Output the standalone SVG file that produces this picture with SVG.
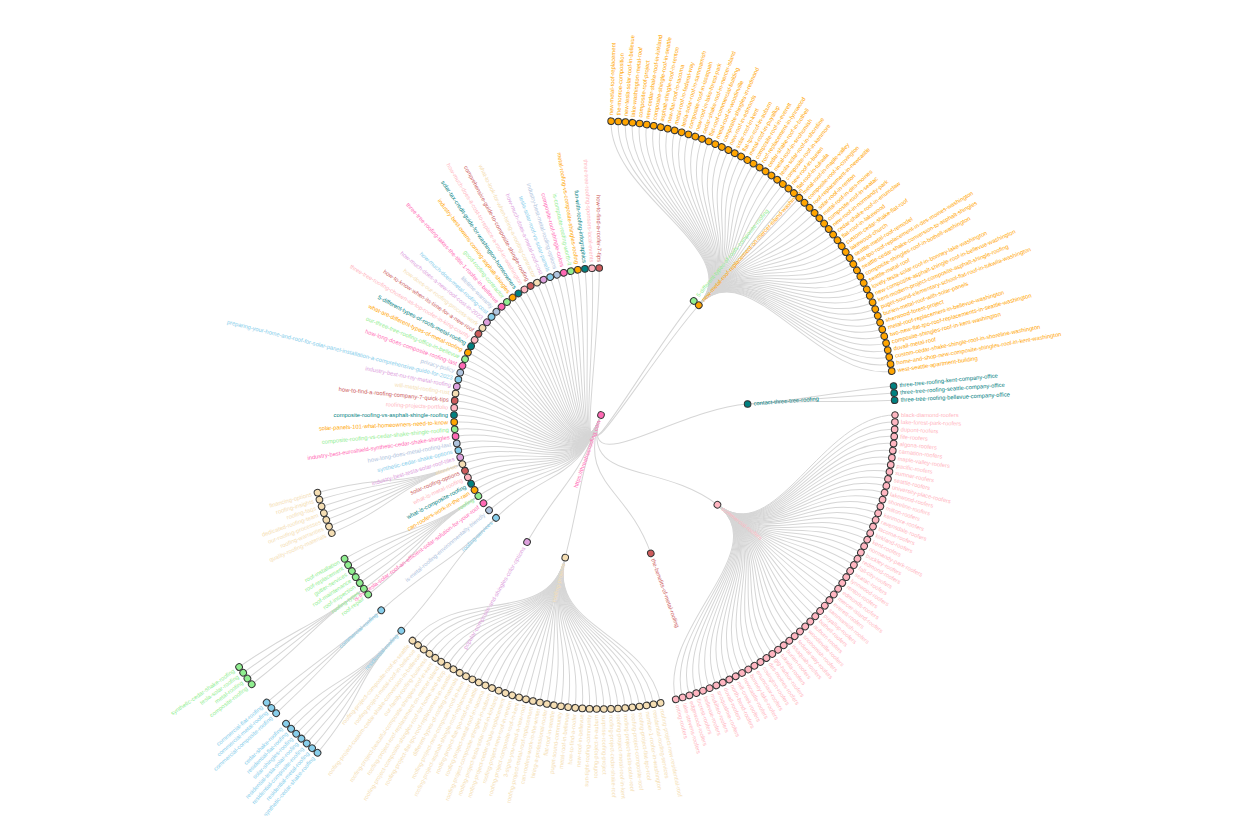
<svg xmlns="http://www.w3.org/2000/svg" width="1255" height="816" viewBox="0 0 1255 816">
<style>
text{font-family:"Liberation Sans",Arial,sans-serif;font-size:5.8px}
circle{stroke:#333;stroke-width:1}
.f text{text-anchor:end}
#links path{fill:none;stroke:#d6d6d6;stroke-width:1}
.G{fill:#90ee90}.O{fill:#ffa500}.T{fill:#008080}.P{fill:#ffb6c1}.R{fill:#cd5c5c}.W{fill:#f5deb3}.M{fill:#dda0dd}.S{fill:#87ceeb}.L{fill:#b0c4de}.H{fill:#ff69b4}
</style>
<rect width="1255" height="816" fill="#fff"/>
<g transform="translate(601,415)">
<g id="links">
<path transform="rotate(-50.9)" d="M0,0C-69.1,25 73.5,0 147,0"/>
<path transform="rotate(-48.3)" d="M0,0C-67.9,28.1 73.5,0 147,0"/>
<path transform="rotate(-4.27)" d="M0,0C-29.3,67.4 73.5,0 147,0"/>
<path transform="rotate(37.64)" d="M0,0C23.3,69.7 73.5,0 147,0"/>
<path transform="rotate(70.2)" d="M0,0C57.1,46.3 73.5,0 147,0"/>
<path transform="rotate(104.09)" d="M0,0C73.2,6.6 73.5,0 147,0"/>
<path transform="rotate(120.2)" d="M0,0C72.2,-14 73.5,0 147,0"/>
<path transform="rotate(135.58)" d="M0,0C65.9,-32.7 73.5,0 147,0"/>
<path transform="rotate(139.6)" d="M0,0C63.4,-37.2 73.5,0 147,0"/>
<path transform="rotate(143.1)" d="M0,0C61,-41 73.5,0 147,0"/>
<path transform="rotate(146.54)" d="M0,0C58.4,-44.6 73.5,0 147,0"/>
<path transform="rotate(149.33)" d="M0,0C56.2,-47.4 73.5,0 147,0"/>
<path transform="rotate(152.12)" d="M0,0C53.8,-50.1 73.5,0 147,0"/>
<path transform="rotate(154.91)" d="M0,0C51.3,-52.6 73.5,0 147,0"/>
<path transform="rotate(157.7)" d="M0,0C48.7,-55.1 73.5,0 147,0"/>
<path transform="rotate(160.49)" d="M0,0C46,-57.4 73.5,0 147,0"/>
<path transform="rotate(163.28)" d="M0,0C43.1,-59.5 73.5,0 147,0"/>
<path transform="rotate(166.07)" d="M0,0C40.2,-61.6 73.5,0 147,0"/>
<path transform="rotate(168.86)" d="M0,0C37.1,-63.4 73.5,0 147,0"/>
<path transform="rotate(171.65)" d="M0,0C34,-65.2 73.5,0 147,0"/>
<path transform="rotate(174.44)" d="M0,0C30.8,-66.7 73.5,0 147,0"/>
<path transform="rotate(177.23)" d="M0,0C27.5,-68.2 73.5,0 147,0"/>
<path transform="rotate(180.02)" d="M0,0C24.2,-69.4 73.5,0 147,0"/>
<path transform="rotate(182.81)" d="M0,0C20.7,-70.5 73.5,0 147,0"/>
<path transform="rotate(185.6)" d="M0,0C17.3,-71.4 73.5,0 147,0"/>
<path transform="rotate(188.39)" d="M0,0C13.8,-72.2 73.5,0 147,0"/>
<path transform="rotate(191.18)" d="M0,0C10.3,-72.8 73.5,0 147,0"/>
<path transform="rotate(193.97)" d="M0,0C6.7,-73.2 73.5,0 147,0"/>
<path transform="rotate(196.76)" d="M0,0C3.1,-73.4 73.5,0 147,0"/>
<path transform="rotate(199.55)" d="M0,0C-0.4,-73.5 73.5,0 147,0"/>
<path transform="rotate(202.34)" d="M0,0C-4,-73.4 73.5,0 147,0"/>
<path transform="rotate(205.13)" d="M0,0C-7.6,-73.1 73.5,0 147,0"/>
<path transform="rotate(207.92)" d="M0,0C-11.1,-72.7 73.5,0 147,0"/>
<path transform="rotate(210.71)" d="M0,0C-14.7,-72 73.5,0 147,0"/>
<path transform="rotate(213.5)" d="M0,0C-18.2,-71.2 73.5,0 147,0"/>
<path transform="rotate(216.29)" d="M0,0C-21.6,-70.3 73.5,0 147,0"/>
<path transform="rotate(219.08)" d="M0,0C-25,-69.1 73.5,0 147,0"/>
<path transform="rotate(221.87)" d="M0,0C-28.3,-67.8 73.5,0 147,0"/>
<path transform="rotate(224.66)" d="M0,0C-31.6,-66.4 73.5,0 147,0"/>
<path transform="rotate(227.45)" d="M0,0C-34.8,-64.8 73.5,0 147,0"/>
<path transform="rotate(230.24)" d="M0,0C-37.9,-63 73.5,0 147,0"/>
<path transform="rotate(233.03)" d="M0,0C-40.9,-61.1 73.5,0 147,0"/>
<path transform="rotate(235.82)" d="M0,0C-43.8,-59 73.5,0 147,0"/>
<path transform="rotate(238.61)" d="M0,0C-46.7,-56.8 73.5,0 147,0"/>
<path transform="rotate(241.4)" d="M0,0C-49.4,-54.5 73.5,0 147,0"/>
<path transform="rotate(244.19)" d="M0,0C-52,-52 73.5,0 147,0"/>
<path transform="rotate(246.98)" d="M0,0C-54.4,-49.4 73.5,0 147,0"/>
<path transform="rotate(249.77)" d="M0,0C-56.8,-46.7 73.5,0 147,0"/>
<path transform="rotate(252.56)" d="M0,0C-59,-43.9 73.5,0 147,0"/>
<path transform="rotate(255.35)" d="M0,0C-61,-40.9 73.5,0 147,0"/>
<path transform="rotate(258.14)" d="M0,0C-63,-37.9 73.5,0 147,0"/>
<path transform="rotate(260.93)" d="M0,0C-64.7,-34.8 73.5,0 147,0"/>
<path transform="rotate(263.72)" d="M0,0C-66.4,-31.6 73.5,0 147,0"/>
<path transform="rotate(266.51)" d="M0,0C-67.8,-28.4 73.5,0 147,0"/>
<path transform="rotate(269.3)" d="M0,0C-69.1,-25 73.5,0 147,0"/>
<path transform="rotate(-88.03)" d="M113.1,94C169.6,140.9 220.5,0 294,0"/>
<path transform="rotate(-86.64)" d="M115.3,91.2C173,136.8 220.5,0 294,0"/>
<path transform="rotate(-85.24)" d="M117.5,88.4C176.2,132.5 220.5,0 294,0"/>
<path transform="rotate(-83.85)" d="M119.6,85.5C179.4,128.2 220.5,0 294,0"/>
<path transform="rotate(-82.45)" d="M121.7,82.5C182.5,123.8 220.5,0 294,0"/>
<path transform="rotate(-81.06)" d="M123.6,79.5C185.4,119.3 220.5,0 294,0"/>
<path transform="rotate(-79.67)" d="M125.5,76.5C188.3,114.8 220.5,0 294,0"/>
<path transform="rotate(-78.27)" d="M127.3,73.4C191,110.2 220.5,0 294,0"/>
<path transform="rotate(-76.88)" d="M129.1,70.3C193.6,105.5 220.5,0 294,0"/>
<path transform="rotate(-75.48)" d="M130.8,67.2C196.1,100.7 220.5,0 294,0"/>
<path transform="rotate(-74.09)" d="M132.4,64C198.5,95.9 220.5,0 294,0"/>
<path transform="rotate(-72.7)" d="M133.9,60.7C200.8,91.1 220.5,0 294,0"/>
<path transform="rotate(-71.3)" d="M135.3,57.4C203,86.2 220.5,0 294,0"/>
<path transform="rotate(-69.91)" d="M136.7,54.1C205,81.2 220.5,0 294,0"/>
<path transform="rotate(-68.51)" d="M138,50.8C206.9,76.2 220.5,0 294,0"/>
<path transform="rotate(-67.12)" d="M139.1,47.4C208.7,71.1 220.5,0 294,0"/>
<path transform="rotate(-65.73)" d="M140.3,44C210.4,66 220.5,0 294,0"/>
<path transform="rotate(-64.33)" d="M141.3,40.6C211.9,60.9 220.5,0 294,0"/>
<path transform="rotate(-62.94)" d="M142.2,37.2C213.4,55.7 220.5,0 294,0"/>
<path transform="rotate(-61.54)" d="M143.1,33.7C214.6,50.5 220.5,0 294,0"/>
<path transform="rotate(-60.15)" d="M143.9,30.2C215.8,45.3 220.5,0 294,0"/>
<path transform="rotate(-58.76)" d="M144.6,26.7C216.8,40 220.5,0 294,0"/>
<path transform="rotate(-57.36)" d="M145.2,23.2C217.8,34.7 220.5,0 294,0"/>
<path transform="rotate(-55.97)" d="M145.7,19.6C218.5,29.4 220.5,0 294,0"/>
<path transform="rotate(-54.57)" d="M146.1,16.1C219.2,24.1 220.5,0 294,0"/>
<path transform="rotate(-53.18)" d="M146.5,12.5C219.7,18.8 220.5,0 294,0"/>
<path transform="rotate(-51.79)" d="M146.7,8.9C220.1,13.4 220.5,0 294,0"/>
<path transform="rotate(-50.39)" d="M146.9,5.4C220.4,8.1 220.5,0 294,0"/>
<path transform="rotate(-49)" d="M147,1.8C220.5,2.7 220.5,0 294,0"/>
<path transform="rotate(-47.6)" d="M147,-1.8C220.5,-2.7 220.5,0 294,0"/>
<path transform="rotate(-46.21)" d="M146.9,-5.4C220.4,-8.1 220.5,0 294,0"/>
<path transform="rotate(-44.82)" d="M146.7,-8.9C220.1,-13.4 220.5,0 294,0"/>
<path transform="rotate(-43.42)" d="M146.5,-12.5C219.7,-18.8 220.5,0 294,0"/>
<path transform="rotate(-42.03)" d="M146.1,-16.1C219.2,-24.1 220.5,0 294,0"/>
<path transform="rotate(-40.63)" d="M145.7,-19.6C218.5,-29.4 220.5,0 294,0"/>
<path transform="rotate(-39.24)" d="M145.2,-23.2C217.8,-34.7 220.5,0 294,0"/>
<path transform="rotate(-37.85)" d="M144.6,-26.7C216.8,-40 220.5,0 294,0"/>
<path transform="rotate(-36.45)" d="M143.9,-30.2C215.8,-45.3 220.5,0 294,0"/>
<path transform="rotate(-35.06)" d="M143.1,-33.7C214.6,-50.5 220.5,0 294,0"/>
<path transform="rotate(-33.66)" d="M142.2,-37.2C213.4,-55.7 220.5,0 294,0"/>
<path transform="rotate(-32.27)" d="M141.3,-40.6C211.9,-60.9 220.5,0 294,0"/>
<path transform="rotate(-30.88)" d="M140.3,-44C210.4,-66 220.5,0 294,0"/>
<path transform="rotate(-29.48)" d="M139.1,-47.4C208.7,-71.1 220.5,0 294,0"/>
<path transform="rotate(-28.09)" d="M138,-50.8C206.9,-76.2 220.5,0 294,0"/>
<path transform="rotate(-26.69)" d="M136.7,-54.1C205,-81.2 220.5,0 294,0"/>
<path transform="rotate(-25.3)" d="M135.3,-57.4C203,-86.2 220.5,0 294,0"/>
<path transform="rotate(-23.91)" d="M133.9,-60.7C200.8,-91.1 220.5,0 294,0"/>
<path transform="rotate(-22.51)" d="M132.4,-64C198.5,-95.9 220.5,0 294,0"/>
<path transform="rotate(-21.12)" d="M130.8,-67.2C196.1,-100.7 220.5,0 294,0"/>
<path transform="rotate(-19.72)" d="M129.1,-70.3C193.6,-105.5 220.5,0 294,0"/>
<path transform="rotate(-18.33)" d="M127.3,-73.4C191,-110.2 220.5,0 294,0"/>
<path transform="rotate(-16.94)" d="M125.5,-76.5C188.3,-114.8 220.5,0 294,0"/>
<path transform="rotate(-15.54)" d="M123.6,-79.5C185.4,-119.3 220.5,0 294,0"/>
<path transform="rotate(-14.15)" d="M121.7,-82.5C182.5,-123.8 220.5,0 294,0"/>
<path transform="rotate(-12.75)" d="M119.6,-85.5C179.4,-128.2 220.5,0 294,0"/>
<path transform="rotate(-11.36)" d="M117.5,-88.4C176.2,-132.5 220.5,0 294,0"/>
<path transform="rotate(-9.97)" d="M115.3,-91.2C173,-136.8 220.5,0 294,0"/>
<path transform="rotate(-8.57)" d="M113.1,-94C169.6,-140.9 220.5,0 294,0"/>
<path transform="rotate(-5.66)" d="M147,3.6C220.4,5.4 220.5,0 294,0"/>
<path transform="rotate(-4.27)" d="M147,0C220.5,0 220.5,0 294,0"/>
<path transform="rotate(-2.88)" d="M147,-3.6C220.4,-5.4 220.5,0 294,0"/>
<path transform="rotate(0)" d="M116.4,89.8C174.6,134.7 220.5,0 294,0"/>
<path transform="rotate(1.39)" d="M118.6,86.9C177.8,130.4 220.5,0 294,0"/>
<path transform="rotate(2.79)" d="M120.6,84C181,126 220.5,0 294,0"/>
<path transform="rotate(4.18)" d="M122.6,81C184,121.6 220.5,0 294,0"/>
<path transform="rotate(5.58)" d="M124.6,78C186.9,117.1 220.5,0 294,0"/>
<path transform="rotate(6.97)" d="M126.4,75C189.7,112.5 220.5,0 294,0"/>
<path transform="rotate(8.36)" d="M128.2,71.9C192.4,107.8 220.5,0 294,0"/>
<path transform="rotate(9.76)" d="M129.9,68.7C194.9,103.1 220.5,0 294,0"/>
<path transform="rotate(11.15)" d="M131.6,65.6C197.4,98.3 220.5,0 294,0"/>
<path transform="rotate(12.55)" d="M133.1,62.3C199.7,93.5 220.5,0 294,0"/>
<path transform="rotate(13.94)" d="M134.6,59.1C201.9,88.6 220.5,0 294,0"/>
<path transform="rotate(15.33)" d="M136,55.8C204,83.7 220.5,0 294,0"/>
<path transform="rotate(16.73)" d="M137.3,52.5C206,78.7 220.5,0 294,0"/>
<path transform="rotate(18.12)" d="M138.6,49.1C207.8,73.7 220.5,0 294,0"/>
<path transform="rotate(19.52)" d="M139.7,45.7C209.6,68.6 220.5,0 294,0"/>
<path transform="rotate(20.91)" d="M140.8,42.3C211.2,63.5 220.5,0 294,0"/>
<path transform="rotate(22.3)" d="M141.8,38.9C212.7,58.3 220.5,0 294,0"/>
<path transform="rotate(23.7)" d="M142.7,35.4C214,53.1 220.5,0 294,0"/>
<path transform="rotate(25.09)" d="M143.5,31.9C215.2,47.9 220.5,0 294,0"/>
<path transform="rotate(26.49)" d="M144.2,28.4C216.3,42.7 220.5,0 294,0"/>
<path transform="rotate(27.88)" d="M144.9,24.9C217.3,37.4 220.5,0 294,0"/>
<path transform="rotate(29.27)" d="M145.4,21.4C218.2,32.1 220.5,0 294,0"/>
<path transform="rotate(30.67)" d="M145.9,17.8C218.9,26.8 220.5,0 294,0"/>
<path transform="rotate(32.06)" d="M146.3,14.3C219.5,21.4 220.5,0 294,0"/>
<path transform="rotate(33.46)" d="M146.6,10.7C219.9,16.1 220.5,0 294,0"/>
<path transform="rotate(34.85)" d="M146.8,7.2C220.2,10.7 220.5,0 294,0"/>
<path transform="rotate(36.24)" d="M147,3.6C220.4,5.4 220.5,0 294,0"/>
<path transform="rotate(37.64)" d="M147,0C220.5,0 220.5,0 294,0"/>
<path transform="rotate(39.03)" d="M147,-3.6C220.4,-5.4 220.5,0 294,0"/>
<path transform="rotate(40.43)" d="M146.8,-7.2C220.2,-10.7 220.5,0 294,0"/>
<path transform="rotate(41.82)" d="M146.6,-10.7C219.9,-16.1 220.5,0 294,0"/>
<path transform="rotate(43.21)" d="M146.3,-14.3C219.5,-21.4 220.5,0 294,0"/>
<path transform="rotate(44.61)" d="M145.9,-17.8C218.9,-26.8 220.5,0 294,0"/>
<path transform="rotate(46)" d="M145.4,-21.4C218.2,-32.1 220.5,0 294,0"/>
<path transform="rotate(47.4)" d="M144.9,-24.9C217.3,-37.4 220.5,0 294,0"/>
<path transform="rotate(48.79)" d="M144.2,-28.4C216.3,-42.7 220.5,0 294,0"/>
<path transform="rotate(50.18)" d="M143.5,-31.9C215.2,-47.9 220.5,0 294,0"/>
<path transform="rotate(51.58)" d="M142.7,-35.4C214,-53.1 220.5,0 294,0"/>
<path transform="rotate(52.97)" d="M141.8,-38.9C212.7,-58.3 220.5,0 294,0"/>
<path transform="rotate(54.37)" d="M140.8,-42.3C211.2,-63.5 220.5,0 294,0"/>
<path transform="rotate(55.76)" d="M139.7,-45.7C209.6,-68.6 220.5,0 294,0"/>
<path transform="rotate(57.15)" d="M138.6,-49.1C207.8,-73.7 220.5,0 294,0"/>
<path transform="rotate(58.55)" d="M137.3,-52.5C206,-78.7 220.5,0 294,0"/>
<path transform="rotate(59.94)" d="M136,-55.8C204,-83.7 220.5,0 294,0"/>
<path transform="rotate(61.34)" d="M134.6,-59.1C201.9,-88.6 220.5,0 294,0"/>
<path transform="rotate(62.73)" d="M133.1,-62.3C199.7,-93.5 220.5,0 294,0"/>
<path transform="rotate(64.12)" d="M131.6,-65.6C197.4,-98.3 220.5,0 294,0"/>
<path transform="rotate(65.52)" d="M129.9,-68.7C194.9,-103.1 220.5,0 294,0"/>
<path transform="rotate(66.91)" d="M128.2,-71.9C192.4,-107.8 220.5,0 294,0"/>
<path transform="rotate(68.31)" d="M126.4,-75C189.7,-112.5 220.5,0 294,0"/>
<path transform="rotate(69.7)" d="M124.6,-78C186.9,-117.1 220.5,0 294,0"/>
<path transform="rotate(71.09)" d="M122.6,-81C184,-121.6 220.5,0 294,0"/>
<path transform="rotate(72.49)" d="M120.6,-84C181,-126 220.5,0 294,0"/>
<path transform="rotate(73.88)" d="M118.6,-86.9C177.8,-130.4 220.5,0 294,0"/>
<path transform="rotate(75.28)" d="M116.4,-89.8C174.6,-134.7 220.5,0 294,0"/>
<path transform="rotate(78.3)" d="M132.4,64C198.5,95.9 220.5,0 294,0"/>
<path transform="rotate(79.7)" d="M133.9,60.7C200.8,91.1 220.5,0 294,0"/>
<path transform="rotate(81.09)" d="M135.3,57.4C203,86.2 220.5,0 294,0"/>
<path transform="rotate(82.48)" d="M136.7,54.1C205,81.2 220.5,0 294,0"/>
<path transform="rotate(83.88)" d="M138,50.8C206.9,76.2 220.5,0 294,0"/>
<path transform="rotate(85.27)" d="M139.1,47.4C208.7,71.1 220.5,0 294,0"/>
<path transform="rotate(86.67)" d="M140.3,44C210.4,66 220.5,0 294,0"/>
<path transform="rotate(88.06)" d="M141.3,40.6C211.9,60.9 220.5,0 294,0"/>
<path transform="rotate(89.45)" d="M142.2,37.2C213.4,55.7 220.5,0 294,0"/>
<path transform="rotate(90.85)" d="M143.1,33.7C214.6,50.5 220.5,0 294,0"/>
<path transform="rotate(92.24)" d="M143.9,30.2C215.8,45.3 220.5,0 294,0"/>
<path transform="rotate(93.64)" d="M144.6,26.7C216.8,40 220.5,0 294,0"/>
<path transform="rotate(95.03)" d="M145.2,23.2C217.8,34.7 220.5,0 294,0"/>
<path transform="rotate(96.42)" d="M145.7,19.6C218.5,29.4 220.5,0 294,0"/>
<path transform="rotate(97.82)" d="M146.1,16.1C219.2,24.1 220.5,0 294,0"/>
<path transform="rotate(99.21)" d="M146.5,12.5C219.7,18.8 220.5,0 294,0"/>
<path transform="rotate(100.61)" d="M146.7,8.9C220.1,13.4 220.5,0 294,0"/>
<path transform="rotate(102)" d="M146.9,5.4C220.4,8.1 220.5,0 294,0"/>
<path transform="rotate(103.39)" d="M147,1.8C220.5,2.7 220.5,0 294,0"/>
<path transform="rotate(104.79)" d="M147,-1.8C220.5,-2.7 220.5,0 294,0"/>
<path transform="rotate(106.18)" d="M146.9,-5.4C220.4,-8.1 220.5,0 294,0"/>
<path transform="rotate(107.58)" d="M146.7,-8.9C220.1,-13.4 220.5,0 294,0"/>
<path transform="rotate(108.97)" d="M146.5,-12.5C219.7,-18.8 220.5,0 294,0"/>
<path transform="rotate(110.36)" d="M146.1,-16.1C219.2,-24.1 220.5,0 294,0"/>
<path transform="rotate(111.76)" d="M145.7,-19.6C218.5,-29.4 220.5,0 294,0"/>
<path transform="rotate(113.15)" d="M145.2,-23.2C217.8,-34.7 220.5,0 294,0"/>
<path transform="rotate(114.55)" d="M144.6,-26.7C216.8,-40 220.5,0 294,0"/>
<path transform="rotate(115.94)" d="M143.9,-30.2C215.8,-45.3 220.5,0 294,0"/>
<path transform="rotate(117.33)" d="M143.1,-33.7C214.6,-50.5 220.5,0 294,0"/>
<path transform="rotate(118.73)" d="M142.2,-37.2C213.4,-55.7 220.5,0 294,0"/>
<path transform="rotate(120.12)" d="M141.3,-40.6C211.9,-60.9 220.5,0 294,0"/>
<path transform="rotate(121.52)" d="M140.3,-44C210.4,-66 220.5,0 294,0"/>
<path transform="rotate(122.91)" d="M139.1,-47.4C208.7,-71.1 220.5,0 294,0"/>
<path transform="rotate(124.3)" d="M138,-50.8C206.9,-76.2 220.5,0 294,0"/>
<path transform="rotate(125.7)" d="M136.7,-54.1C205,-81.2 220.5,0 294,0"/>
<path transform="rotate(127.09)" d="M135.3,-57.4C203,-86.2 220.5,0 294,0"/>
<path transform="rotate(128.49)" d="M133.9,-60.7C200.8,-91.1 220.5,0 294,0"/>
<path transform="rotate(129.88)" d="M132.4,-64C198.5,-95.9 220.5,0 294,0"/>
<path transform="rotate(132.79)" d="M146.8,7.2C220.2,10.7 220.5,0 294,0"/>
<path transform="rotate(138.37)" d="M146.8,-7.2C220.2,-10.7 220.5,0 294,0"/>
<path transform="rotate(142.36)" d="M146.6,10.7C219.9,16.1 220.5,0 294,0"/>
<path transform="rotate(143.76)" d="M146.8,7.2C220.2,10.7 220.5,0 294,0"/>
<path transform="rotate(145.15)" d="M147,3.6C220.4,5.4 220.5,0 294,0"/>
<path transform="rotate(146.54)" d="M147,0C220.5,0 220.5,0 294,0"/>
<path transform="rotate(147.93)" d="M147,-3.6C220.4,-5.4 220.5,0 294,0"/>
<path transform="rotate(149.33)" d="M146.8,-7.2C220.2,-10.7 220.5,0 294,0"/>
<path transform="rotate(150.72)" d="M146.6,-10.7C219.9,-16.1 220.5,0 294,0"/>
<path transform="rotate(156.31)" d="M146.6,10.7C219.9,16.1 220.5,0 294,0"/>
<path transform="rotate(157.7)" d="M146.8,7.2C220.2,10.7 220.5,0 294,0"/>
<path transform="rotate(159.1)" d="M147,3.6C220.4,5.4 220.5,0 294,0"/>
<path transform="rotate(160.49)" d="M147,0C220.5,0 220.5,0 294,0"/>
<path transform="rotate(161.88)" d="M147,-3.6C220.4,-5.4 220.5,0 294,0"/>
<path transform="rotate(163.28)" d="M146.8,-7.2C220.2,-10.7 220.5,0 294,0"/>
<path transform="rotate(164.67)" d="M146.6,-10.7C219.9,-16.1 220.5,0 294,0"/>
<path transform="rotate(142.37)" d="M293.9,7.2C367.4,8.9 367.5,0 441,0"/>
<path transform="rotate(143.3)" d="M294,2.4C367.5,3 367.5,0 441,0"/>
<path transform="rotate(144.23)" d="M294,-2.4C367.5,-3 367.5,0 441,0"/>
<path transform="rotate(145.15)" d="M293.9,-7.2C367.4,-8.9 367.5,0 441,0"/>
<path transform="rotate(130)" d="M293.7,14.3C367.1,17.9 367.5,0 441,0"/>
<path transform="rotate(130.93)" d="M293.9,9.5C367.3,11.9 367.5,0 441,0"/>
<path transform="rotate(131.86)" d="M294,4.8C367.5,6 367.5,0 441,0"/>
<path transform="rotate(132.79)" d="M294,0C367.5,0 367.5,0 441,0"/>
<path transform="rotate(133.72)" d="M294,-4.8C367.5,-6 367.5,0 441,0"/>
<path transform="rotate(134.65)" d="M293.9,-9.5C367.3,-11.9 367.5,0 441,0"/>
<path transform="rotate(135.58)" d="M293.7,-14.3C367.1,-17.9 367.5,0 441,0"/>
<path transform="rotate(137.44)" d="M294,4.8C367.5,6 367.5,0 441,0"/>
<path transform="rotate(138.37)" d="M294,0C367.5,0 367.5,0 441,0"/>
<path transform="rotate(139.3)" d="M294,-4.8C367.5,-6 367.5,0 441,0"/>
</g>
<g id="nodes">
<g id="root" class="H f" transform="rotate(109.2)"><circle r="3.3"/><text x="-6" dy=".31em" transform="rotate(180)">https://threetreeroofing.com</text></g>
<g id="d1-green" class="G" transform="rotate(-50.9)translate(147)"><circle r="3.3"/><text x="6" dy=".31em">5-different-types-of-roofs-composite-roofing</text></g>
<g id="d1-projects" class="O" transform="rotate(-48.3)translate(147)"><circle r="3.3"/><text x="6" dy=".31em">new-metal-roof-replacement-on-mercer-island-washington</text></g>
<g id="d1-contact" class="T" transform="rotate(-4.27)translate(147)"><circle r="3.3"/><text x="6" dy=".31em">contact-three-tree-roofing</text></g>
<g id="d1-roofers" class="P" transform="rotate(37.64)translate(147)"><circle r="3.3"/><text x="6" dy=".31em">commercial-roofers</text></g>
<g id="d1-benefits" class="R" transform="rotate(70.2)translate(147)"><circle r="3.3"/><text x="6" dy=".31em">the-benefits-of-metal-roofing</text></g>
<g id="d1-wheat" class="W f" transform="rotate(104.09)translate(147)"><circle r="3.3"/><text x="-6" dy=".31em" transform="rotate(180)">roofing-projects</text></g>
<g id="d1-plum" class="M f" transform="rotate(120.2)translate(147)"><circle r="3.3"/><text x="-6" dy=".31em" transform="rotate(180)">popular-composite-and-shingles-color-options</text></g>
<g id="d1-services" class="S f" transform="rotate(135.58)translate(147)"><circle r="3.3"/><text x="-6" dy=".31em" transform="rotate(180)">roofing-services</text></g>
<g id="d1-b1" class="L f" transform="rotate(139.6)translate(147)"><circle r="3.3"/><text x="-6" dy=".31em" transform="rotate(180)">is-metal-roofing-environmentally-friendly</text></g>
<g id="d1-b2" class="H f" transform="rotate(143.1)translate(147)"><circle r="3.3"/><text x="-6" dy=".31em" transform="rotate(180)">is-the-tesla-solar-roof-an-efficient-solar-solution-for-your-roof</text></g>
<g id="d1-types" class="G f" transform="rotate(146.54)translate(147)"><circle r="3.3"/><text x="-6" dy=".31em" transform="rotate(180)">roofing</text></g>
<g id="b0" class="O f" transform="rotate(149.33)translate(147)"><circle r="3.3"/><text x="-6" dy=".31em" transform="rotate(180)">can-roofers-work-in-the-rain</text></g>
<g id="b1" class="T f" transform="rotate(152.12)translate(147)"><circle r="3.3"/><text x="-6" dy=".31em" transform="rotate(180)">what-is-composite-roofing</text></g>
<g id="b2" class="P f" transform="rotate(154.91)translate(147)"><circle r="3.3"/><text x="-6" dy=".31em" transform="rotate(180)">what-is-metal-roofing</text></g>
<g id="b3" class="R f" transform="rotate(157.7)translate(147)"><circle r="3.3"/><text x="-6" dy=".31em" transform="rotate(180)">solar-roofing-options</text></g>
<g id="b4" class="W f" transform="rotate(160.49)translate(147)"><circle r="3.3"/><text x="-6" dy=".31em" transform="rotate(180)">about-us</text></g>
<g id="b5" class="M f" transform="rotate(163.28)translate(147)"><circle r="3.3"/><text x="-6" dy=".31em" transform="rotate(180)">industry-best-tesla-solar-roof-tiles</text></g>
<g id="b6" class="S f" transform="rotate(166.07)translate(147)"><circle r="3.3"/><text x="-6" dy=".31em" transform="rotate(180)">synthetic-cedar-shake-options</text></g>
<g id="b7" class="L f" transform="rotate(168.86)translate(147)"><circle r="3.3"/><text x="-6" dy=".31em" transform="rotate(180)">how-long-does-metal-roofing-last</text></g>
<g id="b8" class="H f" transform="rotate(171.65)translate(147)"><circle r="3.3"/><text x="-6" dy=".31em" transform="rotate(180)">industry-best-euroshield-synthetic-cedar-shake-shingles</text></g>
<g id="b9" class="G f" transform="rotate(174.44)translate(147)"><circle r="3.3"/><text x="-6" dy=".31em" transform="rotate(180)">composite-roofing-vs-cedar-shake-shingle-roofing</text></g>
<g id="b10" class="O f" transform="rotate(177.23)translate(147)"><circle r="3.3"/><text x="-6" dy=".31em" transform="rotate(180)">solar-panels-101-what-homeowners-need-to-know</text></g>
<g id="b11" class="T f" transform="rotate(180.02)translate(147)"><circle r="3.3"/><text x="-6" dy=".31em" transform="rotate(180)">composite-roofing-vs-asphalt-shingle-roofing</text></g>
<g id="b12" class="P f" transform="rotate(182.81)translate(147)"><circle r="3.3"/><text x="-6" dy=".31em" transform="rotate(180)">roofing-projects-portfolio</text></g>
<g id="b13" class="R f" transform="rotate(185.6)translate(147)"><circle r="3.3"/><text x="-6" dy=".31em" transform="rotate(180)">how-to-find-a-roofing-company-7-quick-tips</text></g>
<g id="b14" class="W f" transform="rotate(188.39)translate(147)"><circle r="3.3"/><text x="-6" dy=".31em" transform="rotate(180)">will-metal-roofing-rust</text></g>
<g id="b15" class="M f" transform="rotate(191.18)translate(147)"><circle r="3.3"/><text x="-6" dy=".31em" transform="rotate(180)">industry-best-nu-ray-metal-roofing</text></g>
<g id="b16" class="S f" transform="rotate(193.97)translate(147)"><circle r="3.3"/><text x="-6" dy=".31em" transform="rotate(180)">preparing-your-home-and-roof-for-solar-panel-installation-a-comprehensive-guide-for-2023</text></g>
<g id="b17" class="L f" transform="rotate(196.76)translate(147)"><circle r="3.3"/><text x="-6" dy=".31em" transform="rotate(180)">privacy-policy</text></g>
<g id="b18" class="H f" transform="rotate(199.55)translate(147)"><circle r="3.3"/><text x="-6" dy=".31em" transform="rotate(180)">how-long-does-composite-roofing-last</text></g>
<g id="b19" class="G f" transform="rotate(202.34)translate(147)"><circle r="3.3"/><text x="-6" dy=".31em" transform="rotate(180)">our-three-tree-roofing-office-in-bellevue</text></g>
<g id="b20" class="O f" transform="rotate(205.13)translate(147)"><circle r="3.3"/><text x="-6" dy=".31em" transform="rotate(180)">what-are-different-types-of-metal-roofing</text></g>
<g id="b21" class="T f" transform="rotate(207.92)translate(147)"><circle r="3.3"/><text x="-6" dy=".31em" transform="rotate(180)">5-different-types-of-roofs-metal-roofing</text></g>
<g id="b22" class="P f" transform="rotate(210.71)translate(147)"><circle r="3.3"/><text x="-6" dy=".31em" transform="rotate(180)">three-tree-roofing-chosen-as-top-roofer-in-king-county</text></g>
<g id="b23" class="R f" transform="rotate(213.5)translate(147)"><circle r="3.3"/><text x="-6" dy=".31em" transform="rotate(180)">how-to-know-when-its-time-for-a-new-roof</text></g>
<g id="b24" class="W f" transform="rotate(216.29)translate(147)"><circle r="3.3"/><text x="-6" dy=".31em" transform="rotate(180)">how-does-our-roofing-process-work</text></g>
<g id="b25" class="M f" transform="rotate(219.08)translate(147)"><circle r="3.3"/><text x="-6" dy=".31em" transform="rotate(180)">how-much-does-a-new-roof-cost-in-2023</text></g>
<g id="b26" class="S f" transform="rotate(221.87)translate(147)"><circle r="3.3"/><text x="-6" dy=".31em" transform="rotate(180)">how-much-does-metal-roofing-cost</text></g>
<g id="b27" class="L f" transform="rotate(224.66)translate(147)"><circle r="3.3"/><text x="-6" dy=".31em" transform="rotate(180)">lifetime-warranty</text></g>
<g id="b28" class="H f" transform="rotate(227.45)translate(147)"><circle r="3.3"/><text x="-6" dy=".31em" transform="rotate(180)">three-tree-roofing-takes-the-title-1-roofer-in-bellevue</text></g>
<g id="b29" class="G f" transform="rotate(230.24)translate(147)"><circle r="3.3"/><text x="-6" dy=".31em" transform="rotate(180)">good-roofing-contractor</text></g>
<g id="b30" class="O f" transform="rotate(233.03)translate(147)"><circle r="3.3"/><text x="-6" dy=".31em" transform="rotate(180)">industry-best-owens-corning-asphalt-shingles</text></g>
<g id="b31" class="T f" transform="rotate(235.82)translate(147)"><circle r="3.3"/><text x="-6" dy=".31em" transform="rotate(180)">solar-tax-credit-guide-for-washington-homeowners</text></g>
<g id="b32" class="P f" transform="rotate(238.61)translate(147)"><circle r="3.3"/><text x="-6" dy=".31em" transform="rotate(180)">how-much-does-it-cost-to-replace-a-roof-in-washington</text></g>
<g id="b33" class="R f" transform="rotate(241.4)translate(147)"><circle r="3.3"/><text x="-6" dy=".31em" transform="rotate(180)">comprehensive-guide-to-composite-shingle-roofing</text></g>
<g id="b34" class="W f" transform="rotate(244.19)translate(147)"><circle r="3.3"/><text x="-6" dy=".31em" transform="rotate(180)">what-to-look-for-when-hiring-a-roofing-contractor</text></g>
<g id="b35" class="M f" transform="rotate(246.98)translate(147)"><circle r="3.3"/><text x="-6" dy=".31em" transform="rotate(180)">how-much-does-a-metal-roof-cost</text></g>
<g id="b36" class="S f" transform="rotate(249.77)translate(147)"><circle r="3.3"/><text x="-6" dy=".31em" transform="rotate(180)">tesla-solar-roof-vs-solar-panels</text></g>
<g id="b37" class="L f" transform="rotate(252.56)translate(147)"><circle r="3.3"/><text x="-6" dy=".31em" transform="rotate(180)">industry-best-metal-roofing-options</text></g>
<g id="b38" class="H f" transform="rotate(255.35)translate(147)"><circle r="3.3"/><text x="-6" dy=".31em" transform="rotate(180)">composite-roof-shingle-colors</text></g>
<g id="b39" class="G f" transform="rotate(258.14)translate(147)"><circle r="3.3"/><text x="-6" dy=".31em" transform="rotate(180)">is-composite-roofing-worth-it</text></g>
<g id="b40" class="O f" transform="rotate(260.93)translate(147)"><circle r="3.3"/><text x="-6" dy=".31em" transform="rotate(180)">metal-roofing-vs-composite-shingles-roofing</text></g>
<g id="b41" class="T f" transform="rotate(263.72)translate(147)"><circle r="3.3"/><text x="-6" dy=".31em" transform="rotate(180)">fun-with-roofing-infographics</text></g>
<g id="b42" class="P f" transform="rotate(266.51)translate(147)"><circle r="3.3"/><text x="-6" dy=".31em" transform="rotate(180)">three-tree-roofing-sponsors-local-events</text></g>
<g id="b43" class="R f" transform="rotate(269.3)translate(147)"><circle r="3.3"/><text x="-6" dy=".31em" transform="rotate(180)">how-to-find-a-roofer-7-tips</text></g>
<g id="o1" class="O" transform="rotate(-88.03)translate(294)"><circle r="3.3"/><text x="6" dy=".31em">new-metal-roof-replacement</text></g>
<g id="o2" class="O" transform="rotate(-86.64)translate(294)"><circle r="3.3"/><text x="6" dy=".31em">the-monroe-composition</text></g>
<g id="o3" class="O" transform="rotate(-85.24)translate(294)"><circle r="3.3"/><text x="6" dy=".31em">new-tesla-solar-roof-in-bellevue</text></g>
<g id="o4" class="O" transform="rotate(-83.85)translate(294)"><circle r="3.3"/><text x="6" dy=".31em">lake-washington-metal-roof</text></g>
<g id="o5" class="O" transform="rotate(-82.45)translate(294)"><circle r="3.3"/><text x="6" dy=".31em">composite-roof-project</text></g>
<g id="o6" class="O" transform="rotate(-81.06)translate(294)"><circle r="3.3"/><text x="6" dy=".31em">new-cedar-shake-roof-in-kirkland</text></g>
<g id="o7" class="O" transform="rotate(-79.67)translate(294)"><circle r="3.3"/><text x="6" dy=".31em">composite-shingle-roof-in-seattle</text></g>
<g id="o8" class="O" transform="rotate(-78.27)translate(294)"><circle r="3.3"/><text x="6" dy=".31em">asphalt-shingle-roof-in-renton</text></g>
<g id="o9" class="O" transform="rotate(-76.88)translate(294)"><circle r="3.3"/><text x="6" dy=".31em">new-flat-roof-in-tacoma</text></g>
<g id="o10" class="O" transform="rotate(-75.48)translate(294)"><circle r="3.3"/><text x="6" dy=".31em">metal-roof-in-federal-way</text></g>
<g id="o11" class="O" transform="rotate(-74.09)translate(294)"><circle r="3.3"/><text x="6" dy=".31em">tesla-solar-roof-in-sammamish</text></g>
<g id="o12" class="O" transform="rotate(-72.7)translate(294)"><circle r="3.3"/><text x="6" dy=".31em">composite-roof-in-issaquah</text></g>
<g id="o13" class="O" transform="rotate(-71.3)translate(294)"><circle r="3.3"/><text x="6" dy=".31em">new-roof-in-lake-forest-park</text></g>
<g id="o14" class="O" transform="rotate(-69.91)translate(294)"><circle r="3.3"/><text x="6" dy=".31em">cedar-shake-roof-in-mercer-island</text></g>
<g id="o15" class="O" transform="rotate(-68.51)translate(294)"><circle r="3.3"/><text x="6" dy=".31em">flat-roof-commercial-building</text></g>
<g id="o16" class="O" transform="rotate(-67.12)translate(294)"><circle r="3.3"/><text x="6" dy=".31em">metal-roof-in-woodinville</text></g>
<g id="o17" class="O" transform="rotate(-65.73)translate(294)"><circle r="3.3"/><text x="6" dy=".31em">composite-shingles-in-redmond</text></g>
<g id="o18" class="O" transform="rotate(-64.33)translate(294)"><circle r="3.3"/><text x="6" dy=".31em">new-roof-in-edmonds</text></g>
<g id="o19" class="O" transform="rotate(-62.94)translate(294)"><circle r="3.3"/><text x="6" dy=".31em">solar-roof-in-kent</text></g>
<g id="o20" class="O" transform="rotate(-61.54)translate(294)"><circle r="3.3"/><text x="6" dy=".31em">flat-tpo-roof-in-auburn</text></g>
<g id="o21" class="O" transform="rotate(-60.15)translate(294)"><circle r="3.3"/><text x="6" dy=".31em">metal-roof-in-puyallup</text></g>
<g id="o22" class="O" transform="rotate(-58.76)translate(294)"><circle r="3.3"/><text x="6" dy=".31em">composite-roof-in-everett</text></g>
<g id="o23" class="O" transform="rotate(-57.36)translate(294)"><circle r="3.3"/><text x="6" dy=".31em">roof-replacement-in-lynnwood</text></g>
<g id="o24" class="O" transform="rotate(-55.97)translate(294)"><circle r="3.3"/><text x="6" dy=".31em">cedar-shake-roof-in-bothell</text></g>
<g id="o25" class="O" transform="rotate(-54.57)translate(294)"><circle r="3.3"/><text x="6" dy=".31em">metal-roof-in-snohomish</text></g>
<g id="o26" class="O" transform="rotate(-53.18)translate(294)"><circle r="3.3"/><text x="6" dy=".31em">tesla-solar-roof-in-shoreline</text></g>
<g id="o27" class="O" transform="rotate(-51.79)translate(294)"><circle r="3.3"/><text x="6" dy=".31em">composite-roof-in-kenmore</text></g>
<g id="o28" class="O" transform="rotate(-50.39)translate(294)"><circle r="3.3"/><text x="6" dy=".31em">new-roof-in-burien</text></g>
<g id="o29" class="O" transform="rotate(-49)translate(294)"><circle r="3.3"/><text x="6" dy=".31em">flat-roof-in-tukwila</text></g>
<g id="o30" class="O" transform="rotate(-47.6)translate(294)"><circle r="3.3"/><text x="6" dy=".31em">metal-roof-in-maple-valley</text></g>
<g id="o31" class="O" transform="rotate(-46.21)translate(294)"><circle r="3.3"/><text x="6" dy=".31em">composite-roof-in-covington</text></g>
<g id="o32" class="O" transform="rotate(-44.82)translate(294)"><circle r="3.3"/><text x="6" dy=".31em">roof-replacement-in-newcastle</text></g>
<g id="o33" class="O" transform="rotate(-43.42)translate(294)"><circle r="3.3"/><text x="6" dy=".31em">solar-roof-in-renton</text></g>
<g id="o34" class="O" transform="rotate(-42.03)translate(294)"><circle r="3.3"/><text x="6" dy=".31em">metal-roof-in-des-moines</text></g>
<g id="o35" class="O" transform="rotate(-40.63)translate(294)"><circle r="3.3"/><text x="6" dy=".31em">composite-roof-in-seatac</text></g>
<g id="o36" class="O" transform="rotate(-39.24)translate(294)"><circle r="3.3"/><text x="6" dy=".31em">new-roof-in-normandy-park</text></g>
<g id="o37" class="O" transform="rotate(-37.85)translate(294)"><circle r="3.3"/><text x="6" dy=".31em">cedar-shake-roof-in-enumclaw</text></g>
<g id="o38" class="O" transform="rotate(-36.45)translate(294)"><circle r="3.3"/><text x="6" dy=".31em">flat-roof-in-lakewood</text></g>
<g id="o39" class="O" transform="rotate(-35.06)translate(294)"><circle r="3.3"/><text x="6" dy=".31em">custom-cedar-shake-flat-roof</text></g>
<g id="o40" class="O" transform="rotate(-33.66)translate(294)"><circle r="3.3"/><text x="6" dy=".31em">lakewood-church</text></g>
<g id="o41" class="O" transform="rotate(-32.27)translate(294)"><circle r="3.3"/><text x="6" dy=".31em">seattle-metal-roof-remodel</text></g>
<g id="o42" class="O" transform="rotate(-30.88)translate(294)"><circle r="3.3"/><text x="6" dy=".31em">flat-tpo-roof-replacement-in-des-moines-washington</text></g>
<g id="o43" class="O" transform="rotate(-29.48)translate(294)"><circle r="3.3"/><text x="6" dy=".31em">seattle-cedar-shake-conversion-to-asphalt-shingles</text></g>
<g id="o44" class="O" transform="rotate(-28.09)translate(294)"><circle r="3.3"/><text x="6" dy=".31em">composite-shingles-roof-in-bothell-washington</text></g>
<g id="o45" class="O" transform="rotate(-26.69)translate(294)"><circle r="3.3"/><text x="6" dy=".31em">seattle-metal-roof</text></g>
<g id="o46" class="O" transform="rotate(-25.3)translate(294)"><circle r="3.3"/><text x="6" dy=".31em">lovely-tesla-solar-roof-in-bonney-lake-washington</text></g>
<g id="o47" class="O" transform="rotate(-23.91)translate(294)"><circle r="3.3"/><text x="6" dy=".31em">new-composite-asphalt-shingle-roof-in-bellevue-washington</text></g>
<g id="o48" class="O" transform="rotate(-22.51)translate(294)"><circle r="3.3"/><text x="6" dy=".31em">kent-modern-project-composite-asphalt-shingle-roofing</text></g>
<g id="o49" class="O" transform="rotate(-21.12)translate(294)"><circle r="3.3"/><text x="6" dy=".31em">puget-sound-elementary-school-flat-roof-in-tukwila-washington</text></g>
<g id="o50" class="O" transform="rotate(-19.72)translate(294)"><circle r="3.3"/><text x="6" dy=".31em">burien-metal-roof-with-solar-panels</text></g>
<g id="o51" class="O" transform="rotate(-18.33)translate(294)"><circle r="3.3"/><text x="6" dy=".31em">sherwood-forest-project</text></g>
<g id="o52" class="O" transform="rotate(-16.94)translate(294)"><circle r="3.3"/><text x="6" dy=".31em">metal-roof-replacement-in-bellevue-washington</text></g>
<g id="o53" class="O" transform="rotate(-15.54)translate(294)"><circle r="3.3"/><text x="6" dy=".31em">two-new-flat-tpo-roof-replacements-in-seattle-washington</text></g>
<g id="o54" class="O" transform="rotate(-14.15)translate(294)"><circle r="3.3"/><text x="6" dy=".31em">composite-shingles-roof-in-kent-washington</text></g>
<g id="o55" class="O" transform="rotate(-12.75)translate(294)"><circle r="3.3"/><text x="6" dy=".31em">duvall-metal-roof</text></g>
<g id="o56" class="O" transform="rotate(-11.36)translate(294)"><circle r="3.3"/><text x="6" dy=".31em">custom-cedar-shake-shingle-roof-in-shoreline-washington</text></g>
<g id="o57" class="O" transform="rotate(-9.97)translate(294)"><circle r="3.3"/><text x="6" dy=".31em">home-and-shop-new-composite-shingles-roof-in-kent-washington</text></g>
<g id="o58" class="O" transform="rotate(-8.57)translate(294)"><circle r="3.3"/><text x="6" dy=".31em">west-seattle-apartment-building</text></g>
<g id="t1" class="T" transform="rotate(-5.66)translate(294)"><circle r="3.3"/><text x="6" dy=".31em">three-tree-roofing-kent-company-office</text></g>
<g id="t2" class="T" transform="rotate(-4.27)translate(294)"><circle r="3.3"/><text x="6" dy=".31em">three-tree-roofing-seattle-company-office</text></g>
<g id="t3" class="T" transform="rotate(-2.88)translate(294)"><circle r="3.3"/><text x="6" dy=".31em">three-tree-roofing-bellevue-company-office</text></g>
<g id="p1" class="P" transform="rotate(0)translate(294)"><circle r="3.3"/><text x="6" dy=".31em">black-diamond-roofers</text></g>
<g id="p2" class="P" transform="rotate(1.39)translate(294)"><circle r="3.3"/><text x="6" dy=".31em">lake-forest-park-roofers</text></g>
<g id="p3" class="P" transform="rotate(2.79)translate(294)"><circle r="3.3"/><text x="6" dy=".31em">dupont-roofers</text></g>
<g id="p4" class="P" transform="rotate(4.18)translate(294)"><circle r="3.3"/><text x="6" dy=".31em">fife-roofers</text></g>
<g id="p5" class="P" transform="rotate(5.58)translate(294)"><circle r="3.3"/><text x="6" dy=".31em">algona-roofers</text></g>
<g id="p6" class="P" transform="rotate(6.97)translate(294)"><circle r="3.3"/><text x="6" dy=".31em">carnation-roofers</text></g>
<g id="p7" class="P" transform="rotate(8.36)translate(294)"><circle r="3.3"/><text x="6" dy=".31em">maple-valley-roofers</text></g>
<g id="p8" class="P" transform="rotate(9.76)translate(294)"><circle r="3.3"/><text x="6" dy=".31em">pacific-roofers</text></g>
<g id="p9" class="P" transform="rotate(11.15)translate(294)"><circle r="3.3"/><text x="6" dy=".31em">sumner-roofers</text></g>
<g id="p10" class="P" transform="rotate(12.55)translate(294)"><circle r="3.3"/><text x="6" dy=".31em">seattle-roofers</text></g>
<g id="p11" class="P" transform="rotate(13.94)translate(294)"><circle r="3.3"/><text x="6" dy=".31em">university-place-roofers</text></g>
<g id="p12" class="P" transform="rotate(15.33)translate(294)"><circle r="3.3"/><text x="6" dy=".31em">lakewood-roofers</text></g>
<g id="p13" class="P" transform="rotate(16.73)translate(294)"><circle r="3.3"/><text x="6" dy=".31em">shoreline-roofers</text></g>
<g id="p14" class="P" transform="rotate(18.12)translate(294)"><circle r="3.3"/><text x="6" dy=".31em">milton-roofers</text></g>
<g id="p15" class="P" transform="rotate(19.52)translate(294)"><circle r="3.3"/><text x="6" dy=".31em">kenmore-roofers</text></g>
<g id="p16" class="P" transform="rotate(20.91)translate(294)"><circle r="3.3"/><text x="6" dy=".31em">ravensdale-roofers</text></g>
<g id="p17" class="P" transform="rotate(22.3)translate(294)"><circle r="3.3"/><text x="6" dy=".31em">tacoma-roofers</text></g>
<g id="p18" class="P" transform="rotate(23.7)translate(294)"><circle r="3.3"/><text x="6" dy=".31em">kirkland-roofers</text></g>
<g id="p19" class="P" transform="rotate(25.09)translate(294)"><circle r="3.3"/><text x="6" dy=".31em">kent-roofers</text></g>
<g id="p20" class="P" transform="rotate(26.49)translate(294)"><circle r="3.3"/><text x="6" dy=".31em">normandy-park-roofers</text></g>
<g id="p21" class="P" transform="rotate(27.88)translate(294)"><circle r="3.3"/><text x="6" dy=".31em">buckley-roofers</text></g>
<g id="p22" class="P" transform="rotate(29.27)translate(294)"><circle r="3.3"/><text x="6" dy=".31em">redmond-roofers</text></g>
<g id="p23" class="P" transform="rotate(30.67)translate(294)"><circle r="3.3"/><text x="6" dy=".31em">fall-city-roofers</text></g>
<g id="p24" class="P" transform="rotate(32.06)translate(294)"><circle r="3.3"/><text x="6" dy=".31em">seatac-roofers</text></g>
<g id="p25" class="P" transform="rotate(33.46)translate(294)"><circle r="3.3"/><text x="6" dy=".31em">lynnwood-roofers</text></g>
<g id="p26" class="P" transform="rotate(34.85)translate(294)"><circle r="3.3"/><text x="6" dy=".31em">renton-roofers</text></g>
<g id="p27" class="P" transform="rotate(36.24)translate(294)"><circle r="3.3"/><text x="6" dy=".31em">edmonds-roofers</text></g>
<g id="p28" class="P" transform="rotate(37.64)translate(294)"><circle r="3.3"/><text x="6" dy=".31em">mercer-island-roofers</text></g>
<g id="p29" class="P" transform="rotate(39.03)translate(294)"><circle r="3.3"/><text x="6" dy=".31em">everett-roofers</text></g>
<g id="p30" class="P" transform="rotate(40.43)translate(294)"><circle r="3.3"/><text x="6" dy=".31em">sammamish-roofers</text></g>
<g id="p31" class="P" transform="rotate(41.82)translate(294)"><circle r="3.3"/><text x="6" dy=".31em">puyallup-roofers</text></g>
<g id="p32" class="P" transform="rotate(43.21)translate(294)"><circle r="3.3"/><text x="6" dy=".31em">bothell-roofers</text></g>
<g id="p33" class="P" transform="rotate(44.61)translate(294)"><circle r="3.3"/><text x="6" dy=".31em">auburn-roofers</text></g>
<g id="p34" class="P" transform="rotate(46)translate(294)"><circle r="3.3"/><text x="6" dy=".31em">woodinville-roofers</text></g>
<g id="p35" class="P" transform="rotate(47.4)translate(294)"><circle r="3.3"/><text x="6" dy=".31em">snohomish-roofers</text></g>
<g id="p36" class="P" transform="rotate(48.79)translate(294)"><circle r="3.3"/><text x="6" dy=".31em">federal-way-roofers</text></g>
<g id="p37" class="P" transform="rotate(50.18)translate(294)"><circle r="3.3"/><text x="6" dy=".31em">issaquah-roofers</text></g>
<g id="p38" class="P" transform="rotate(51.58)translate(294)"><circle r="3.3"/><text x="6" dy=".31em">burien-roofers</text></g>
<g id="p39" class="P" transform="rotate(52.97)translate(294)"><circle r="3.3"/><text x="6" dy=".31em">tukwila-roofers</text></g>
<g id="p40" class="P" transform="rotate(54.37)translate(294)"><circle r="3.3"/><text x="6" dy=".31em">gig-harbor-roofers</text></g>
<g id="p41" class="P" transform="rotate(55.76)translate(294)"><circle r="3.3"/><text x="6" dy=".31em">des-moines-roofers</text></g>
<g id="p42" class="P" transform="rotate(57.15)translate(294)"><circle r="3.3"/><text x="6" dy=".31em">covington-roofers</text></g>
<g id="p43" class="P" transform="rotate(58.55)translate(294)"><circle r="3.3"/><text x="6" dy=".31em">enumclaw-roofers</text></g>
<g id="p44" class="P" transform="rotate(59.94)translate(294)"><circle r="3.3"/><text x="6" dy=".31em">bonney-lake-roofers</text></g>
<g id="p45" class="P" transform="rotate(61.34)translate(294)"><circle r="3.3"/><text x="6" dy=".31em">newcastle-roofers</text></g>
<g id="p46" class="P" transform="rotate(62.73)translate(294)"><circle r="3.3"/><text x="6" dy=".31em">mill-creek-roofers</text></g>
<g id="p47" class="P" transform="rotate(64.12)translate(294)"><circle r="3.3"/><text x="6" dy=".31em">north-bend-roofers</text></g>
<g id="p48" class="P" transform="rotate(65.52)translate(294)"><circle r="3.3"/><text x="6" dy=".31em">duvall-roofers</text></g>
<g id="p49" class="P" transform="rotate(66.91)translate(294)"><circle r="3.3"/><text x="6" dy=".31em">snoqualmie-roofers</text></g>
<g id="p50" class="P" transform="rotate(68.31)translate(294)"><circle r="3.3"/><text x="6" dy=".31em">mukilteo-roofers</text></g>
<g id="p51" class="P" transform="rotate(69.7)translate(294)"><circle r="3.3"/><text x="6" dy=".31em">bellevue-roofers</text></g>
<g id="p52" class="P" transform="rotate(71.09)translate(294)"><circle r="3.3"/><text x="6" dy=".31em">fircrest-roofers</text></g>
<g id="p53" class="P" transform="rotate(72.49)translate(294)"><circle r="3.3"/><text x="6" dy=".31em">edgewood-roofers</text></g>
<g id="p54" class="P" transform="rotate(73.88)translate(294)"><circle r="3.3"/><text x="6" dy=".31em">lake-stevens-roofers</text></g>
<g id="p55" class="P" transform="rotate(75.28)translate(294)"><circle r="3.3"/><text x="6" dy=".31em">orting-roofers</text></g>
<g id="w1" class="W" transform="rotate(78.3)translate(294)"><circle r="3.3"/><text x="6" dy=".31em">roofing-project-new-residential-roof</text></g>
<g id="w2" class="W" transform="rotate(79.7)translate(294)"><circle r="3.3"/><text x="6" dy=".31em">residential-roofing-services</text></g>
<g id="w3" class="W" transform="rotate(81.09)translate(294)"><circle r="3.3"/><text x="6" dy=".31em">number-1-roofer-in-washington</text></g>
<g id="w4" class="W" transform="rotate(82.48)translate(294)"><circle r="3.3"/><text x="6" dy=".31em">roofing-project-flat-tpo-roof</text></g>
<g id="w5" class="W" transform="rotate(83.88)translate(294)"><circle r="3.3"/><text x="6" dy=".31em">roofing-project-composite-roof</text></g>
<g id="w6" class="W" transform="rotate(85.27)translate(294)"><circle r="3.3"/><text x="6" dy=".31em">roofing-project-tesla-solar-roof</text></g>
<g id="w7" class="W" transform="rotate(86.67)translate(294)"><circle r="3.3"/><text x="6" dy=".31em">roofing-project-metal-roof-in-kent</text></g>
<g id="w8" class="W" transform="rotate(88.06)translate(294)"><circle r="3.3"/><text x="6" dy=".31em">roofing-project-cedar-shake-roof</text></g>
<g id="w9" class="W" transform="rotate(89.45)translate(294)"><circle r="3.3"/><text x="6" dy=".31em">surprise-roofing-project</text></g>
<g id="w10" class="W f" transform="rotate(90.85)translate(294)"><circle r="3.3"/><text x="-6" dy=".31em" transform="rotate(180)">roofing-project-in-auburn</text></g>
<g id="w11" class="W f" transform="rotate(92.24)translate(294)"><circle r="3.3"/><text x="-6" dy=".31em" transform="rotate(180)">sun-tight-roofing-community</text></g>
<g id="w12" class="W f" transform="rotate(93.64)translate(294)"><circle r="3.3"/><text x="-6" dy=".31em" transform="rotate(180)">new-roof-in-bellevue</text></g>
<g id="w13" class="W f" transform="rotate(95.03)translate(294)"><circle r="3.3"/><text x="-6" dy=".31em" transform="rotate(180)">how-to-find-a-roofer</text></g>
<g id="w14" class="W f" transform="rotate(96.42)translate(294)"><circle r="3.3"/><text x="-6" dy=".31em" transform="rotate(180)">metal-roof-in-bellevue</text></g>
<g id="w15" class="W f" transform="rotate(97.82)translate(294)"><circle r="3.3"/><text x="-6" dy=".31em" transform="rotate(180)">puget-sound-community</text></g>
<g id="w16" class="W f" transform="rotate(99.21)translate(294)"><circle r="3.3"/><text x="-6" dy=".31em" transform="rotate(180)">flat-roof-in-seattle</text></g>
<g id="w17" class="W f" transform="rotate(100.61)translate(294)"><circle r="3.3"/><text x="-6" dy=".31em" transform="rotate(180)">hiring-a-professional-roofer</text></g>
<g id="w18" class="W f" transform="rotate(102)translate(294)"><circle r="3.3"/><text x="-6" dy=".31em" transform="rotate(180)">can-roofers-work-in-the-winter</text></g>
<g id="w19" class="W f" transform="rotate(103.39)translate(294)"><circle r="3.3"/><text x="-6" dy=".31em" transform="rotate(180)">roofing-project-metal-roof-replacement</text></g>
<g id="w20" class="W f" transform="rotate(104.79)translate(294)"><circle r="3.3"/><text x="-6" dy=".31em" transform="rotate(180)">3-signs-you-need-a-new-roof</text></g>
<g id="w21" class="W f" transform="rotate(106.18)translate(294)"><circle r="3.3"/><text x="-6" dy=".31em" transform="rotate(180)">roofing-project-composite-roof-in-kent</text></g>
<g id="w22" class="W f" transform="rotate(107.58)translate(294)"><circle r="3.3"/><text x="-6" dy=".31em" transform="rotate(180)">roofing-project-new-roof-in-renton</text></g>
<g id="w23" class="W f" transform="rotate(108.97)translate(294)"><circle r="3.3"/><text x="-6" dy=".31em" transform="rotate(180)">roofing-project-cedar-shake-replacement</text></g>
<g id="w24" class="W f" transform="rotate(110.36)translate(294)"><circle r="3.3"/><text x="-6" dy=".31em" transform="rotate(180)">roofing-project-tesla-solar-roof-in-kirkland</text></g>
<g id="w25" class="W f" transform="rotate(111.76)translate(294)"><circle r="3.3"/><text x="-6" dy=".31em" transform="rotate(180)">roofing-project-composite-shingles-in-auburn</text></g>
<g id="w26" class="W f" transform="rotate(113.15)translate(294)"><circle r="3.3"/><text x="-6" dy=".31em" transform="rotate(180)">roofing-project-metal-roof-in-tacoma</text></g>
<g id="w27" class="W f" transform="rotate(114.55)translate(294)"><circle r="3.3"/><text x="-6" dy=".31em" transform="rotate(180)">roofing-project-flat-tpo-roof-in-seattle</text></g>
<g id="w28" class="W f" transform="rotate(115.94)translate(294)"><circle r="3.3"/><text x="-6" dy=".31em" transform="rotate(180)">roofing-project-asphalt-shingle-roof-replacement</text></g>
<g id="w29" class="W f" transform="rotate(117.33)translate(294)"><circle r="3.3"/><text x="-6" dy=".31em" transform="rotate(180)">roofing-project-new-composite-roof-in-kent</text></g>
<g id="w30" class="W f" transform="rotate(118.73)translate(294)"><circle r="3.3"/><text x="-6" dy=".31em" transform="rotate(180)">different-types-of-roofing-materials</text></g>
<g id="w31" class="W f" transform="rotate(120.12)translate(294)"><circle r="3.3"/><text x="-6" dy=".31em" transform="rotate(180)">roofing-project-flat-tpo-roof-replacement-in-seattle</text></g>
<g id="w32" class="W f" transform="rotate(121.52)translate(294)"><circle r="3.3"/><text x="-6" dy=".31em" transform="rotate(180)">roofing-project-composite-shingles-roof-for-home-and-shop</text></g>
<g id="w33" class="W f" transform="rotate(122.91)translate(294)"><circle r="3.3"/><text x="-6" dy=".31em" transform="rotate(180)">roofing-project-roof-replacement-on-mercer-island</text></g>
<g id="w34" class="W f" transform="rotate(124.3)translate(294)"><circle r="3.3"/><text x="-6" dy=".31em" transform="rotate(180)">roofing-project-beautiful-composite-shingles-roof-in-kent</text></g>
<g id="w35" class="W f" transform="rotate(125.7)translate(294)"><circle r="3.3"/><text x="-6" dy=".31em" transform="rotate(180)">our-family-roofing-business</text></g>
<g id="w36" class="W f" transform="rotate(127.09)translate(294)"><circle r="3.3"/><text x="-6" dy=".31em" transform="rotate(180)">roofing-project-custom-cedar-shake-conversion-in-bellevue</text></g>
<g id="w37" class="W f" transform="rotate(128.49)translate(294)"><circle r="3.3"/><text x="-6" dy=".31em" transform="rotate(180)">roofing-project-metal-roof-in-bellevue</text></g>
<g id="w38" class="W f" transform="rotate(129.88)translate(294)"><circle r="3.3"/><text x="-6" dy=".31em" transform="rotate(180)">roofing-project-composite-roof-in-seattle</text></g>
<g id="s-res" class="S f" transform="rotate(132.79)translate(294)"><circle r="3.3"/><text x="-6" dy=".31em" transform="rotate(180)">residential-roofing</text></g>
<g id="s-com" class="S f" transform="rotate(138.37)translate(294)"><circle r="3.3"/><text x="-6" dy=".31em" transform="rotate(180)">commercial-roofing</text></g>
<g id="r1" class="S f" transform="rotate(130)translate(441)"><circle r="3.3"/><text x="-6" dy=".31em" transform="rotate(180)">synthetic-cedar-shake-roofing</text></g>
<g id="r2" class="S f" transform="rotate(130.93)translate(441)"><circle r="3.3"/><text x="-6" dy=".31em" transform="rotate(180)">residential-metal-roofing</text></g>
<g id="r3" class="S f" transform="rotate(131.86)translate(441)"><circle r="3.3"/><text x="-6" dy=".31em" transform="rotate(180)">residential-composite-roofing</text></g>
<g id="r4" class="S f" transform="rotate(132.79)translate(441)"><circle r="3.3"/><text x="-6" dy=".31em" transform="rotate(180)">residential-tesla-solar-roofing</text></g>
<g id="r5" class="S f" transform="rotate(133.72)translate(441)"><circle r="3.3"/><text x="-6" dy=".31em" transform="rotate(180)">solar-shingles-roofing</text></g>
<g id="r6" class="S f" transform="rotate(134.65)translate(441)"><circle r="3.3"/><text x="-6" dy=".31em" transform="rotate(180)">residential-flat-roofing</text></g>
<g id="r7" class="S f" transform="rotate(135.58)translate(441)"><circle r="3.3"/><text x="-6" dy=".31em" transform="rotate(180)">cedar-shake-roofing</text></g>
<g id="c1" class="S f" transform="rotate(137.44)translate(441)"><circle r="3.3"/><text x="-6" dy=".31em" transform="rotate(180)">commercial-composite-roofing</text></g>
<g id="c2" class="S f" transform="rotate(138.37)translate(441)"><circle r="3.3"/><text x="-6" dy=".31em" transform="rotate(180)">commercial-metal-roofing</text></g>
<g id="c3" class="S f" transform="rotate(139.3)translate(441)"><circle r="3.3"/><text x="-6" dy=".31em" transform="rotate(180)">commercial-flat-roofing</text></g>
<g id="g1" class="G f" transform="rotate(142.36)translate(294)"><circle r="3.3"/><text x="-6" dy=".31em" transform="rotate(180)">roof-repair</text></g>
<g id="g2" class="G f" transform="rotate(143.76)translate(294)"><circle r="3.3"/><text x="-6" dy=".31em" transform="rotate(180)">roofing-types</text></g>
<g id="g3" class="G f" transform="rotate(145.15)translate(294)"><circle r="3.3"/><text x="-6" dy=".31em" transform="rotate(180)">roof-inspection</text></g>
<g id="g4" class="G f" transform="rotate(146.54)translate(294)"><circle r="3.3"/><text x="-6" dy=".31em" transform="rotate(180)">roof-maintenance</text></g>
<g id="g5" class="G f" transform="rotate(147.93)translate(294)"><circle r="3.3"/><text x="-6" dy=".31em" transform="rotate(180)">gutter-services</text></g>
<g id="g6" class="G f" transform="rotate(149.33)translate(294)"><circle r="3.3"/><text x="-6" dy=".31em" transform="rotate(180)">roof-replacement</text></g>
<g id="g7" class="G f" transform="rotate(150.72)translate(294)"><circle r="3.3"/><text x="-6" dy=".31em" transform="rotate(180)">roof-installation</text></g>
<g id="gg1" class="G f" transform="rotate(142.37)translate(441)"><circle r="3.3"/><text x="-6" dy=".31em" transform="rotate(180)">composite-roofing</text></g>
<g id="gg2" class="G f" transform="rotate(143.3)translate(441)"><circle r="3.3"/><text x="-6" dy=".31em" transform="rotate(180)">metal-roofing</text></g>
<g id="gg3" class="G f" transform="rotate(144.23)translate(441)"><circle r="3.3"/><text x="-6" dy=".31em" transform="rotate(180)">tesla-solar-roofing</text></g>
<g id="gg4" class="G f" transform="rotate(145.15)translate(441)"><circle r="3.3"/><text x="-6" dy=".31em" transform="rotate(180)">synthetic-cedar-shake-roofing</text></g>
<g id="a1" class="W f" transform="rotate(156.31)translate(294)"><circle r="3.3"/><text x="-6" dy=".31em" transform="rotate(180)">quality-roofing-materials</text></g>
<g id="a2" class="W f" transform="rotate(157.7)translate(294)"><circle r="3.3"/><text x="-6" dy=".31em" transform="rotate(180)">roofing-warranties</text></g>
<g id="a3" class="W f" transform="rotate(159.1)translate(294)"><circle r="3.3"/><text x="-6" dy=".31em" transform="rotate(180)">our-roofing-processes</text></g>
<g id="a4" class="W f" transform="rotate(160.49)translate(294)"><circle r="3.3"/><text x="-6" dy=".31em" transform="rotate(180)">dedicated-roofing-team</text></g>
<g id="a5" class="W f" transform="rotate(161.88)translate(294)"><circle r="3.3"/><text x="-6" dy=".31em" transform="rotate(180)">roofing-faqs</text></g>
<g id="a6" class="W f" transform="rotate(163.28)translate(294)"><circle r="3.3"/><text x="-6" dy=".31em" transform="rotate(180)">roofing-insights</text></g>
<g id="a7" class="W f" transform="rotate(164.67)translate(294)"><circle r="3.3"/><text x="-6" dy=".31em" transform="rotate(180)">financing-options</text></g>
</g>
</g>
</svg>
